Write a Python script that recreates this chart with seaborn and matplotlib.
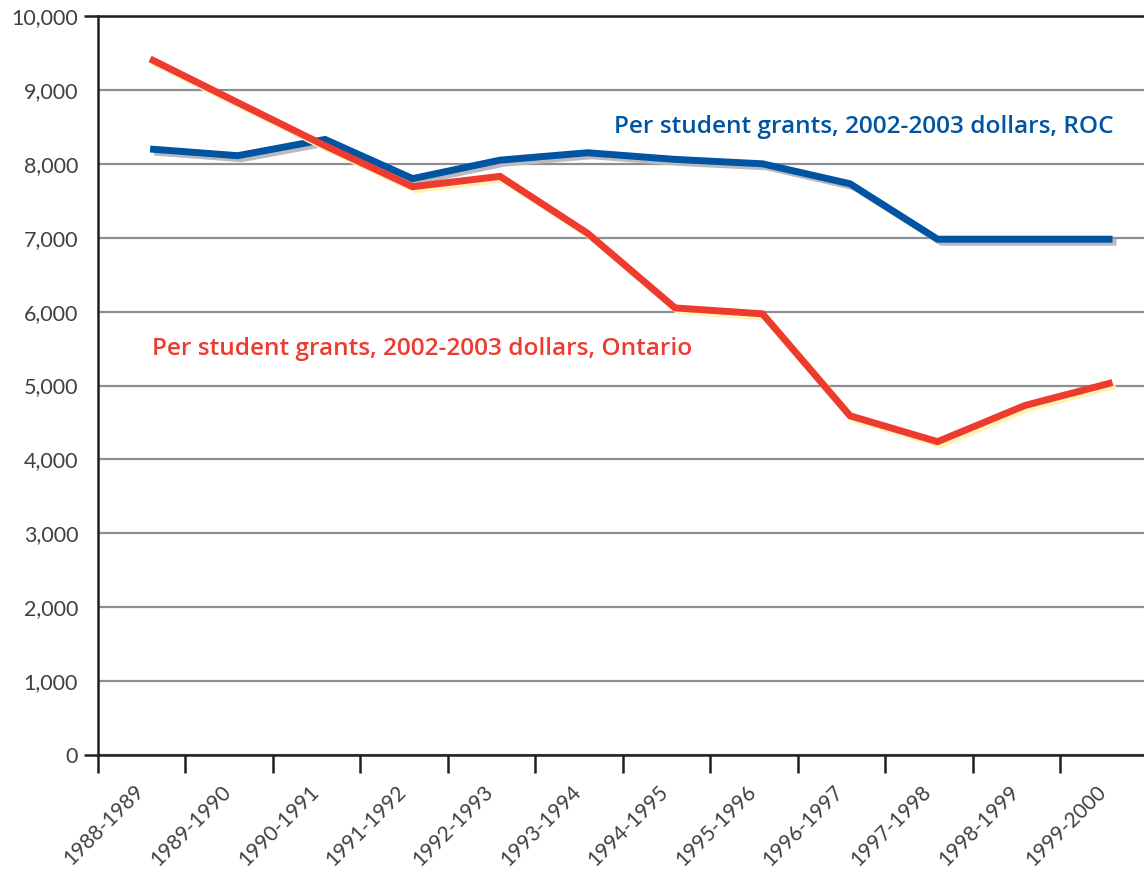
import matplotlib
matplotlib.use("Agg")
import matplotlib.pyplot as plt
import matplotlib.patheffects as pe
import numpy as np
import pandas as pd
import seaborn as sns

# Academic years shown on the x axis
years = ["1988-1989", "1989-1990", "1990-1991", "1991-1992", "1992-1993",
         "1993-1994", "1994-1995", "1995-1996", "1996-1997", "1997-1998",
         "1998-1999", "1999-2000"]

# Per student grants, 2002-2003 dollars
roc_grants = [8200, 8110, 8330, 7800, 8050, 8150, 8060, 8000, 7730, 6980, 6980, 6980]
ontario_grants = [9420, 8830, 8245, 7690, 7830, 7060, 6050, 5970, 4590, 4240, 4730, 5040]

y_ticks = list(range(0, 10001, 1000))

sns.set_theme(style="white")
plt.rcParams["font.family"] = ["Lato", "DejaVu Sans"]

BLUE = "#0054a2"
RED = "#ee3b30"
GRID = "#8d8d92"
AXIS = "#231f20"
TICK_TEXT = "#404040"

df = pd.DataFrame({
    "pos": np.arange(len(years)),
    "year": years,
    "ROC": roc_grants,
    "Ontario": ontario_grants,
})

fig = plt.figure(figsize=(11.44, 8.71), dpi=100)
ax = fig.add_axes([0.0853, 0.1332, 0.9147, 0.8484])

sns.lineplot(data=df, x="pos", y="ROC", ax=ax, color=BLUE, lw=5,
             solid_capstyle="butt", solid_joinstyle="miter", zorder=4,
             path_effects=[pe.SimpleLineShadow(offset=(2.9, -2.2),
                                               shadow_color="#b9b9be", alpha=1),
                           pe.Normal()])
sns.lineplot(data=df, x="pos", y="Ontario", ax=ax, color=RED, lw=5,
             solid_capstyle="butt", solid_joinstyle="miter", zorder=5,
             path_effects=[pe.SimpleLineShadow(offset=(2.2, -2.2),
                                               shadow_color="#fff4b4", alpha=1),
                           pe.Normal()])

# Axes limits and frame
n = len(years)
ax.set_xlim(-0.6, n - 0.64)
ax.set_ylim(0, 10000)
for side in ("left", "bottom", "top"):
    ax.spines[side].set_color(AXIS)
    ax.spines[side].set_linewidth(1.8)
ax.spines["right"].set_visible(False)

# Horizontal gridlines
ax.set_yticks(y_ticks)
ax.set_yticklabels([f"{v:,}" for v in y_ticks])
ax.yaxis.grid(True, color=GRID, lw=1.6)
ax.xaxis.grid(False)
ax.set_axisbelow(True)
ax.tick_params(axis="y", which="major", length=0, pad=14, labelsize=15.5,
               labelcolor=TICK_TEXT)
ax.yaxis.remove_overlapping_locs = False
ax.set_yticks([0, 10000], minor=True)
ax.tick_params(axis="y", which="minor", length=10, width=1.8, color=AXIS,
               direction="out", left=True)

# Category boundaries as tick marks, year labels between them
ax.set_xticks(np.arange(n) - 0.6)
ax.set_xticklabels([])
ax.tick_params(axis="x", which="major", length=13, width=1.8, color=AXIS,
               direction="out", bottom=True)
ax.set_xticks(np.arange(n) - 0.19, minor=True)
ax.set_xticklabels(years, minor=True, rotation=45, ha="right",
                   rotation_mode="anchor", fontsize=15, color=TICK_TEXT)
ax.tick_params(axis="x", which="minor", length=0, pad=19)

ax.set_xlabel("")
ax.set_ylabel("")

# Series labels
ax.text(8.16, 8500, "Per student grants, 2002-2003 dollars, ROC",
        color=BLUE, fontsize=17.6, fontweight="semibold",
        family=["Open Sans", "DejaVu Sans"], ha="center", va="center")
ax.text(3.11, 5500, "Per student grants, 2002-2003 dollars, Ontario",
        color=RED, fontsize=17.6, fontweight="semibold",
        family=["Open Sans", "DejaVu Sans"], ha="center", va="center")

fig.savefig("out.png", dpi=100)
